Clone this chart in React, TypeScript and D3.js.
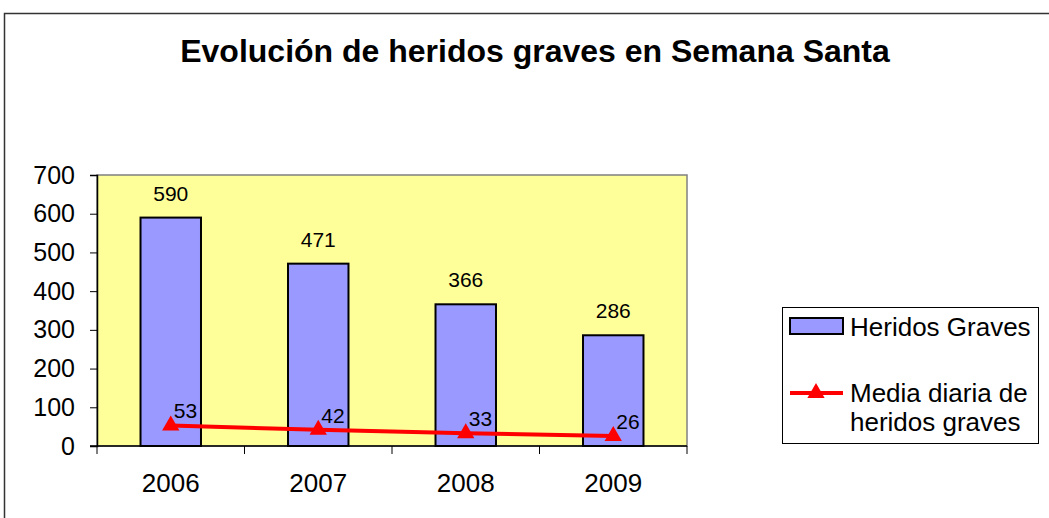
import React, { useEffect, useRef } from "react";
import * as d3 from "d3";

const years = ["2006", "2007", "2008", "2009"];
const heridosGraves = [590, 471, 366, 286];
const mediaDiaria = [53, 42, 33, 26];
const yTicks = [0, 100, 200, 300, 400, 500, 600, 700];

const W = 1049;
const H = 518;

export default function App() {
  const ref = useRef<SVGSVGElement | null>(null);

  useEffect(() => {
    const svg = d3.select(ref.current);
    svg.selectAll("*").remove();
    const font = "Liberation Sans, Arial, sans-serif";
    const plot = { left: 97, right: 687, top: 175, bottom: 446 };

    // outer chart frame
    svg
      .append("rect")
      .attr("x", 4.5)
      .attr("y", 13.5)
      .attr("width", W + 20)
      .attr("height", H + 20)
      .attr("fill", "white")
      .attr("stroke", "#333")
      .attr("stroke-width", 1.5);

    // title
    svg
      .append("text")
      .attr("x", 535)
      .attr("y", 62)
      .attr("text-anchor", "middle")
      .attr("font-family", font)
      .attr("font-weight", "bold")
      .attr("font-size", 32)
      .text("Evolución de heridos graves en Semana Santa");

    const x = d3
      .scaleBand()
      .domain(years)
      .range([plot.left, plot.right])
      .paddingInner(0.59)
      .paddingOuter(0.295);
    const xOuter = d3.scaleBand().domain(years).range([plot.left, plot.right]);
    const y = d3.scaleLinear().domain([0, 700]).range([plot.bottom, plot.top]);

    // plot background
    svg
      .append("rect")
      .attr("x", plot.left)
      .attr("y", plot.top)
      .attr("width", plot.right - plot.left)
      .attr("height", plot.bottom - plot.top)
      .attr("fill", "#FFFF99")
      .attr("stroke", "#808080")
      .attr("stroke-width", 1.5);

    // bars
    svg
      .append("g")
      .selectAll("rect")
      .data(heridosGraves)
      .join("rect")
      .attr("x", (_, i) => x(years[i])!)
      .attr("y", (d) => y(d))
      .attr("width", x.bandwidth())
      .attr("height", (d) => y(0) - y(d))
      .attr("fill", "#9999FF")
      .attr("stroke", "#000")
      .attr("stroke-width", 2);

    // bar labels
    svg
      .append("g")
      .selectAll("text")
      .data(heridosGraves)
      .join("text")
      .attr("x", (_, i) => x(years[i])! + x.bandwidth() / 2)
      .attr("y", (d) => y(d) - 17)
      .attr("text-anchor", "middle")
      .attr("font-family", font)
      .attr("font-size", 21)
      .text((d) => d);

    // y axis
    const yAxis = svg
      .append("g")
      .attr("transform", `translate(${plot.left},0)`)
      .call(d3.axisLeft(y).tickValues(yTicks).tickSize(7).tickPadding(15));
    yAxis.select(".domain").attr("stroke", "#000").attr("stroke-width", 1.5);
    yAxis.selectAll("line").attr("stroke", "#000");
    yAxis
      .selectAll("text")
      .attr("font-family", font)
      .attr("font-size", 25)
      .attr("fill", "#000");

    // x axis (ticks between categories)
    const xAxis = svg
      .append("g")
      .attr("transform", `translate(0,${plot.bottom})`);
    xAxis
      .append("line")
      .attr("x1", plot.left - 7)
      .attr("x2", plot.right)
      .attr("stroke", "#000")
      .attr("stroke-width", 1.5);
    const edges = [...years.map((c) => xOuter(c)!), plot.right];
    xAxis
      .selectAll("line.tick")
      .data(edges)
      .join("line")
      .attr("class", "tick")
      .attr("x1", (d) => d)
      .attr("x2", (d) => d)
      .attr("y1", 0)
      .attr("y2", 8)
      .attr("stroke", "#000");
    xAxis
      .selectAll("text")
      .data(years)
      .join("text")
      .attr("x", (d) => xOuter(d)! + xOuter.bandwidth() / 2)
      .attr("y", 46)
      .attr("text-anchor", "middle")
      .attr("font-family", font)
      .attr("font-size", 26)
      .text((d) => d);

    // line series
    const cx = (i: number) => x(years[i])! + x.bandwidth() / 2;
    const line = d3
      .line<number>()
      .x((_, i) => cx(i))
      .y((d) => y(d));
    svg
      .append("path")
      .datum(mediaDiaria)
      .attr("d", line)
      .attr("fill", "none")
      .attr("stroke", "#FF0000")
      .attr("stroke-width", 4);
    const tri = d3.symbol(d3.symbolTriangle, 130)();
    svg
      .append("g")
      .selectAll("path")
      .data(mediaDiaria)
      .join("path")
      .attr("d", tri)
      .attr("transform", (d, i) => `translate(${cx(i)},${y(d)})`)
      .attr("fill", "#FF0000");
    svg
      .append("g")
      .selectAll("text")
      .data(mediaDiaria)
      .join("text")
      .attr("x", (_, i) => cx(i) + 3)
      .attr("y", (d) => y(d) - 7)
      .attr("font-family", font)
      .attr("font-size", 21)
      .text((d) => d);

    // legend
    const lg = svg.append("g");
    lg.append("rect")
      .attr("x", 782.5)
      .attr("y", 307.5)
      .attr("width", 256)
      .attr("height", 136)
      .attr("fill", "white")
      .attr("stroke", "#000")
      .attr("stroke-width", 1);
    lg.append("rect")
      .attr("x", 790)
      .attr("y", 318)
      .attr("width", 53)
      .attr("height", 16)
      .attr("fill", "#9999FF")
      .attr("stroke", "#000")
      .attr("stroke-width", 2);
    const legendText = [
      { t: "Heridos Graves", y: 336 },
      { t: "Media diaria de", y: 402 },
      { t: "heridos graves", y: 431 },
    ];
    lg.selectAll("text")
      .data(legendText)
      .join("text")
      .attr("x", 850)
      .attr("y", (d) => d.y)
      .attr("font-family", font)
      .attr("font-size", 26)
      .text((d) => d.t);
    lg.append("line")
      .attr("x1", 790)
      .attr("x2", 843)
      .attr("y1", 393)
      .attr("y2", 393)
      .attr("stroke", "#FF0000")
      .attr("stroke-width", 4);
    lg.append("path")
      .attr("d", tri)
      .attr("transform", "translate(816,393)")
      .attr("fill", "#FF0000");
  }, []);

  return (
    <div style={{ position: "absolute", left: 0, top: 0, width: W, height: H, overflow: "hidden" }}>
      <svg ref={ref} width={W} height={H} style={{ display: "block" }} />
    </div>
  );
}
